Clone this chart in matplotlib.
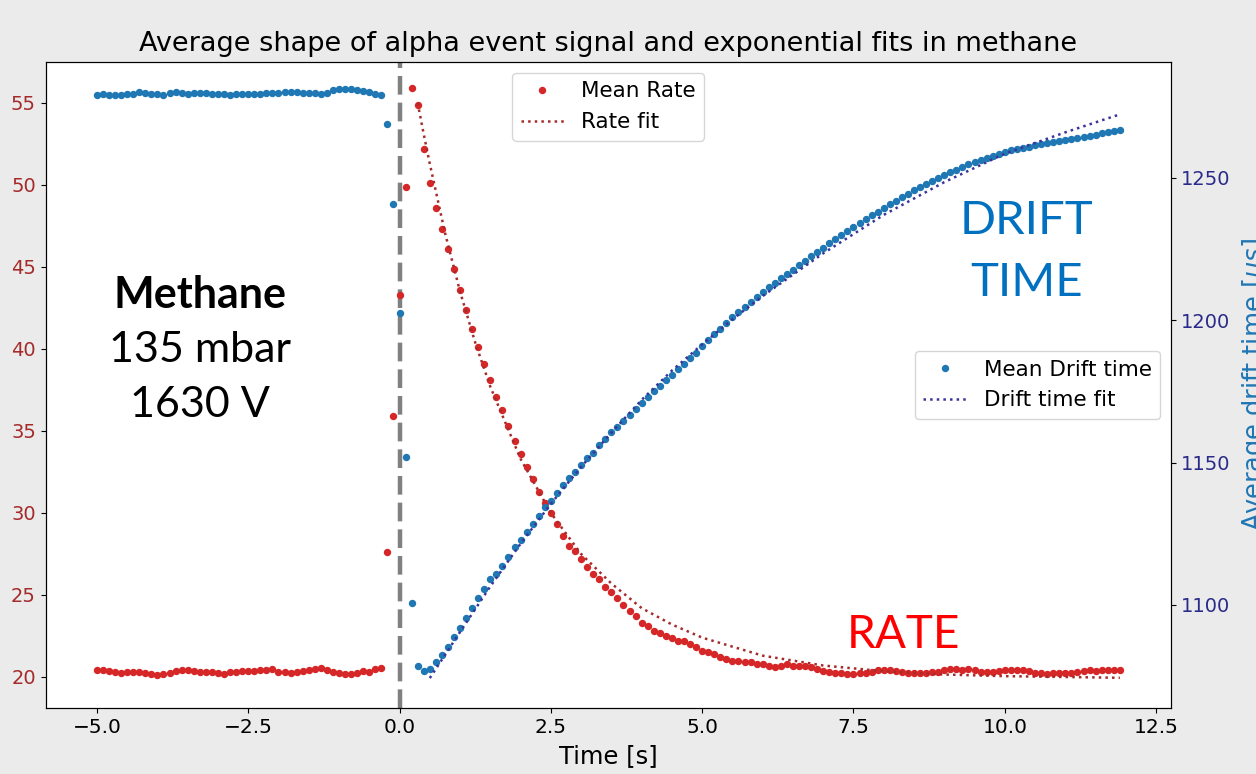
import numpy as np
import matplotlib.pyplot as plt

# time axis, one sample every 0.1 s
t = np.round(np.arange(-5.0, 11.95, 0.1), 1)

# mean alpha rate per bin
rate = [
    20.45, 20.45, 20.38, 20.32, 20.25, 20.30, 20.30, 20.30, 20.25, 20.20,
    20.15, 20.20, 20.22, 20.35, 20.45, 20.42, 20.35, 20.33, 20.30, 20.30,
    20.22, 20.20, 20.28, 20.32, 20.35, 20.36, 20.38, 20.40, 20.40, 20.47,
    20.33, 20.28, 20.25, 20.30, 20.35, 20.43, 20.50, 20.52, 20.45, 20.30,
    20.25, 20.20, 20.18, 20.25, 20.38, 20.33, 20.47, 20.52,
    27.6, 35.9, 43.3, 49.9, 55.9, 54.9, 52.2, 50.1, 48.6, 47.3,
    46.1, 44.9, 43.6, 42.4, 41.2, 40.1, 39.1, 38.1, 37.1, 36.3,
    35.3, 34.4, 33.6, 32.8, 32.1, 31.3, 30.6, 30.0, 29.3, 28.6,
    28.0, 27.7, 27.2, 26.7, 26.3, 26.0, 25.5, 25.2, 24.8, 24.4,
    24.0, 23.7, 23.3, 23.1, 22.8, 22.7, 22.5, 22.4, 22.2, 22.2,
    22.0, 21.8, 21.6, 21.5, 21.4, 21.2, 21.1, 21.0, 21.0, 20.9,
    20.9, 20.8, 20.8, 20.7, 20.6, 20.7, 20.8, 20.7, 20.7, 20.7,
    20.6, 20.5, 20.35, 20.3, 20.25,
    20.22, 20.20, 20.20, 20.22, 20.25, 20.28, 20.40, 20.43, 20.42, 20.38,
    20.30, 20.25, 20.25, 20.22, 20.25, 20.28, 20.30, 20.45, 20.50, 20.48,
    20.45, 20.50, 20.40, 20.32, 20.30, 20.28, 20.35, 20.42, 20.43, 20.40,
    20.42, 20.35, 20.25, 20.22, 20.20, 20.25, 20.25, 20.22, 20.25, 20.30,
    20.38, 20.40, 20.38, 20.42, 20.43, 20.42, 20.43,
]

# mean drift time per bin [us]
drift = [
    1279.0, 1279.4, 1279.1, 1279.0, 1279.2, 1279.4, 1279.6, 1280.0, 1279.8, 1279.5,
    1279.3, 1279.1, 1279.9, 1280.1, 1279.9, 1279.6, 1279.8, 1279.7, 1279.9, 1279.6,
    1279.4, 1279.3, 1279.2, 1279.3, 1279.4, 1279.6, 1279.5, 1279.6, 1279.7, 1279.7,
    1279.8, 1280.1, 1280.3, 1280.0, 1279.9, 1279.8, 1279.7, 1279.5, 1279.9, 1281.0,
    1281.2, 1281.2, 1281.1, 1280.9, 1280.5, 1280.0, 1279.6, 1279.0,
    1268.8, 1240.8, 1202.5, 1152.0, 1100.8, 1078.7, 1076.9, 1077.4, 1080.1, 1082.4,
    1085.1, 1088.7, 1092.0, 1095.3, 1098.8, 1102.4, 1105.6, 1109.0, 1110.9, 1113.8,
    1117.0, 1120.3, 1122.8, 1125.5, 1128.3, 1131.4, 1134.3, 1136.6, 1139.4, 1142.1,
    1144.7, 1146.8, 1149.2, 1151.5, 1153.5, 1156.0, 1158.2, 1160.7, 1162.6, 1164.7,
    1166.7, 1168.9, 1171.0, 1173.0, 1175.0, 1177.0, 1179.0, 1180.9, 1182.8, 1184.7,
    1186.6, 1188.6, 1190.8, 1192.9, 1195.0, 1197.0, 1199.1, 1201.0, 1202.9, 1204.7,
    1206.5, 1208.3, 1210.0, 1211.6, 1213.1, 1214.7, 1216.2, 1217.7, 1219.3, 1220.9,
    1222.4, 1224.0, 1225.5, 1227.0, 1228.5, 1229.9, 1231.4, 1232.8, 1234.2, 1235.5,
    1236.8, 1238.1, 1239.4, 1240.7, 1241.9, 1243.2, 1244.4, 1245.6, 1246.7, 1247.8,
    1248.9, 1250.0, 1251.0, 1252.0, 1252.9, 1253.8, 1254.7, 1255.6, 1256.3, 1257.0,
    1257.7, 1258.5, 1259.2, 1259.7, 1260.1, 1260.6, 1261.0, 1261.5, 1261.9, 1262.3,
    1262.7, 1263.0, 1263.4, 1263.8, 1264.1, 1264.5, 1264.8, 1265.2, 1265.6, 1266.0,
    1266.3, 1266.7,
]

# exponential fits
rate_fit_t = [0.3, 0.4, 0.5, 0.75, 1.0, 1.25, 1.5, 2.0, 2.5, 3.0, 3.5,
              4.0, 4.5, 5.0, 6.0, 7.0, 8.0, 9.0, 10.0, 11.0, 11.9]
rate_fit = [55.0, 53.1, 51.3, 47.1, 43.5, 40.4, 37.7, 33.3, 30.0, 27.5, 25.7,
            24.2, 23.2, 22.4, 21.3, 20.7, 20.35, 20.15, 20.05, 20.0, 19.95]

drift_fit_t = [0.5, 1.0, 1.5, 2.0, 2.5, 3.0, 3.5, 4.0, 4.5, 5.0, 5.5,
               6.0, 7.0, 8.0, 9.0, 10.0, 11.0, 11.9]
drift_fit = [1074.3, 1090.5, 1106.5, 1121.5, 1135.5, 1148.5, 1160.5, 1172.0,
             1182.3, 1191.5, 1200.3, 1208.5, 1223.5, 1237.0, 1248.5, 1258.5,
             1266.0, 1272.3]

fig = plt.figure(figsize=(12.56, 7.74), dpi=100, facecolor='#ebebeb')
ax = fig.add_axes([0.0364, 0.0853, 0.8959, 0.8346])
ax2 = ax.twinx()

ax.axvline(0, color='gray', ls='--', lw=3.2, dashes=(4.2, 1.8), zorder=1)
ax.plot(t, rate, 'o', ms=4.3, color='tab:red', label='Mean Rate', zorder=2)
ax.plot(rate_fit_t, rate_fit, ':', lw=1.8, color='brown', label='Rate fit', zorder=3)

ax2.plot(t, drift, 'o', ms=4.3, color='tab:blue', label='Mean Drift time')
ax2.plot(drift_fit_t, drift_fit, ':', lw=1.8, color='#3b3399', label='Drift time fit')

ax.set_xlim(-5.845, 12.745)
ax.set_ylim(18.11, 57.5)
ax2.set_ylim(1063.8, 1290.7)
ax.set_xticks([-5, -2.5, 0, 2.5, 5, 7.5, 10, 12.5])
ax.set_yticks([20, 25, 30, 35, 40, 45, 50, 55])
ax2.set_yticks([1100, 1150, 1200, 1250])

ax.tick_params(axis='x', labelsize=14.5)
ax.tick_params(axis='y', labelsize=14, labelcolor='brown')
ax2.tick_params(axis='y', labelsize=14, labelcolor='#2a2a8a')

ax.set_title('Average shape of alpha event signal and exponential fits in methane',
             fontsize=19.5, pad=8)
ax.set_xlabel('Time [s]', fontsize=17.5, labelpad=5)
ax2.set_ylabel('Average drift time [$\\mu s$]', fontsize=18.5, color='tab:blue')
ax2.yaxis.set_label_coords(1.061, 0.5)

ax.legend(loc='upper center', fontsize=15.5)
ax2.legend(loc='center right', fontsize=15.5)

# labels written on the plot
ax.text(-3.3, 43.3, 'Methane', fontsize=31, fontweight='bold', family='Lato',
        ha='center', va='center')
ax.text(-3.3, 39.95, '135 mbar', fontsize=31, family='Lato', ha='center', va='center')
ax.text(-3.3, 36.6, '1630 V', fontsize=31, family='Lato', ha='center', va='center')
ax.text(10.36, 47.8, 'DRIFT', fontsize=34, family='Lato', color='#0070c0',
        ha='center', va='center')
ax.text(10.36, 44.0, 'TIME', fontsize=34, family='Lato', color='#0070c0',
        ha='center', va='center')
ax.text(8.33, 22.56, 'RATE', fontsize=33, family='Lato', color='#ff0000',
        ha='center', va='center')

fig.savefig('out.png', dpi=100, facecolor=fig.get_facecolor())
